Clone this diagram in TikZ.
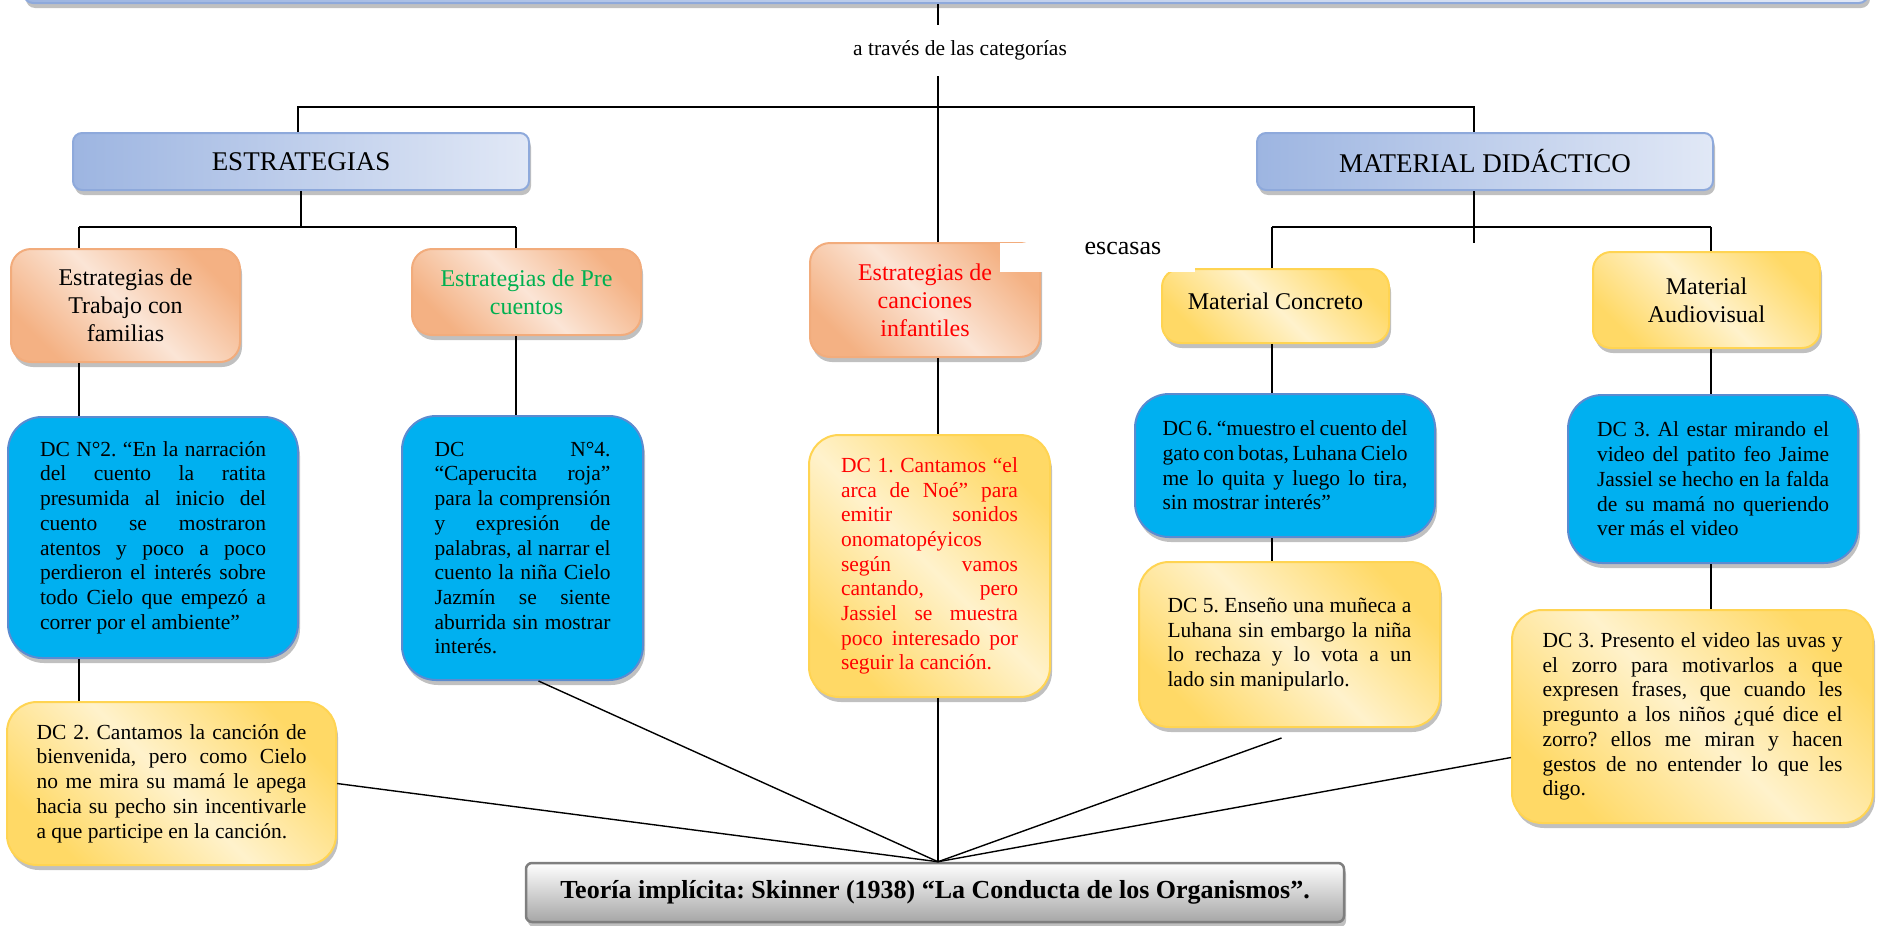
\documentclass[tikz,border=0pt]{standalone}
\usepackage{fontspec}
\setmainfont{Liberation Serif}
\usetikzlibrary{shadows}
\frenchspacing
\definecolor{hdrdark}{HTML}{9DB5E1}
\definecolor{hdrlight}{HTML}{E1E8F6}
\definecolor{hdrline}{HTML}{8EA9DB}
\definecolor{orngdark}{HTML}{F4B183}
\definecolor{ornglight}{HTML}{FBE5D6}
\definecolor{orngline}{HTML}{F2AC7C}
\definecolor{yeldark}{HTML}{FFD966}
\definecolor{yellight}{HTML}{FFF2CC}
\definecolor{yelline}{HTML}{FFD452}
\definecolor{dcfill}{HTML}{00B0F0}
\definecolor{dcline}{HTML}{5B8BD0}
\definecolor{teodark}{HTML}{A6A6A6}
\definecolor{teoline}{HTML}{7F7F7F}
\definecolor{txtgreen}{HTML}{00B050}
\newcommand\dcfont{\fontsize{21.5}{24.7}\selectfont\hyphenpenalty=10000\exhyphenpenalty=10000\tolerance=9999\relax}
\newcommand\catfont{\fontsize{24}{28}\selectfont}
\newcommand\hdrfont{\fontsize{27}{32}\selectfont}
\newcommand\escfont{\fontsize{26}{30}\selectfont}
\newcommand\teofont{\fontsize{26}{30}\selectfont\bfseries}
\tikzset{conn/.style={line width=1.4pt},
    bar/.style={line width=2.2pt},
    boxshadow/.style={drop shadow={shadow xshift=2pt, shadow yshift=-5pt, fill=black!45, opacity=0.55}},
    hdrbox/.style={draw=hdrline, line width=2pt, rounded corners=9pt, left color=hdrdark, right color=hdrlight, boxshadow, font=\hdrfont, inner sep=0pt},
    catbox/.style={draw=orngline, line width=2pt, rounded corners=20pt, top color=orngdark, bottom color=orngdark, middle color=ornglight, shading angle=-45, boxshadow, font=\catfont, align=center, inner sep=0pt},
    matbox/.style={draw=yelline, line width=2pt, rounded corners=18pt, top color=yeldark, bottom color=yeldark, middle color=yellight, shading angle=-45, boxshadow, font=\catfont, align=center, inner sep=0pt},
    dcblue/.style={draw=dcline, line width=2pt, fill=dcfill, rounded corners=34pt, boxshadow, font=\dcfont, align=justify, inner sep=0pt},
    dcyellow/.style={draw=yelline, line width=2pt, rounded corners=30pt, top color=yeldark, bottom color=yeldark, middle color=yellight, shading angle=-45, boxshadow, font=\dcfont, align=justify, inner sep=0pt},
    teobox/.style={draw=teoline, line width=2.5pt, rounded corners=6pt, top color=white, bottom color=teodark, boxshadow, font=\teofont, inner sep=0pt},
    }

\begin{document}
\begin{tikzpicture}[x=1pt,y=-1pt]
\useasboundingbox (0,0) rectangle (1879,926);
% top box, cut by the page
\node (top) [hdrbox, minimum width=1844, minimum height=80] at (946,-37) {};
\node (via) [minimum height=51, font=\dcfont, inner sep=0pt] at (960,50.5) {a través de las categorías};
% categories
\node (estr) [hdrbox, minimum width=456, minimum height=57] at (301,161.5) {ESTRATEGIAS};
\node (mat) [hdrbox, minimum width=456, minimum height=57] at (1485,161.5) {MATERIAL DIDÁCTICO};
\node (fam) [catbox, minimum width=229, minimum height=113] at (125.5,305.5) {Estrategias de\\Trabajo con\\familias};
\node (pre) [catbox, minimum width=229, minimum height=86, text=txtgreen] at (526.5,292) {Estrategias de Pre\\cuentos};
\node (can) [catbox, minimum width=230, minimum height=114, text=red] at (925,300) {Estrategias de\\canciones\\infantiles};
\node (conc) [matbox, minimum width=227, minimum height=74, text depth=10pt] at (1275.5,306) {Material Concreto};
\node (aud) [matbox, minimum width=227, minimum height=96] at (1706.5,300) {Material\\Audiovisual};
% DC boxes
\node (dc2a) [dcblue, minimum width=290, minimum height=241, text width=226] at (153,537.5)
  {DC N°2. “En la narración \linebreak del cuento la ratita \linebreak presumida al inicio del \linebreak cuento se mostraron \linebreak atentos y poco a poco \linebreak perdieron el interés sobre \linebreak todo Cielo que empezó a \linebreak correr por el ambiente”};
\node (dc4) [dcblue, minimum width=241, minimum height=264, text width=176] at (522.5,548)
  {DC N°4. \linebreak “Caperucita roja” \linebreak para la comprensión \linebreak y expresión de \linebreak palabras, al narrar el \linebreak cuento la niña Cielo \linebreak Jazmín se siente \linebreak aburrida sin mostrar \linebreak interés.};
\node (dc1) [dcyellow, minimum width=241, minimum height=262, text width=177, text=red] at (929.5,566)
  {DC 1. Cantamos “el \linebreak arca de Noé” para \linebreak emitir sonidos \linebreak onomatopéyicos \linebreak según vamos \linebreak cantando, pero \linebreak Jassiel se muestra \linebreak poco interesado por \linebreak seguir la canción.};
\node (dc6) [dcblue, minimum width=300, minimum height=143, text width=245] at (1285,465.5)
  {DC 6. “muestro el cuento del \linebreak gato con botas, Luhana Cielo \linebreak me lo quita y luego lo tira, \linebreak sin mostrar interés”};
\node (dc5) [dcyellow, minimum width=301, minimum height=165, text width=244] at (1289.5,644.5)
  {DC 5. Enseño una muñeca a \linebreak Luhana sin embargo la niña \linebreak lo rechaza y lo vota a un \linebreak lado sin manipularlo.};
\node (dc3a) [dcblue, minimum width=290, minimum height=168, text width=232] at (1713,479)
  {DC 3. Al estar mirando el \linebreak video del patito feo Jaime \linebreak Jassiel se hecho en la falda \linebreak de su mamá no queriendo \linebreak ver más el video};
\node (dc3b) [dcyellow, minimum width=361, minimum height=213, text width=300] at (1692.5,716.5)
  {DC 3. Presento el video las uvas y \linebreak el zorro para motivarlos a que \linebreak expresen frases, que cuando les \linebreak pregunto a los niños ¿qué dice el \linebreak zorro? ellos me miran y hacen \linebreak gestos de no entender lo que les \linebreak digo.};
\node (dc2b) [dcyellow, minimum width=329, minimum height=163, text width=270] at (171.5,783.5)
  {DC 2. Cantamos la canción de \linebreak bienvenida, pero como Cielo \linebreak no me mira su mamá le apega \linebreak hacia su pecho sin incentivarle \linebreak a que participe en la canción.};
\node (teo) [teobox, minimum width=818, minimum height=59] at (935,892.5)
  {Teoría implícita: Skinner (1938) “La Conducta de los Organismos”.};
% branch points
\coordinate (trunk) at (938,0);
\coordinate (b1) at (938,107);
\coordinate (b2l) at (79,227);
\coordinate (b2r) at (516,227);
\coordinate (b3l) at (1272,227);
\coordinate (b3r) at (1711,227);
\coordinate (hub) at (trunk |- teo.north);
% tree lines
\draw[conn] (trunk |- top.south) -- (trunk |- via.north);
\draw[conn] (trunk |- via.south) -- (b1);
\draw[bar] ([xshift=-3pt]estr.north) |- (b1) -| ([xshift=-11pt]mat.north);
\draw[conn] (b1) -- (trunk |- can.north);
\draw[conn] (estr.south) -- (estr.south |- b2l);
\draw[bar] (b2l) -- (b2r);
\draw[conn] (b2l) -- (b2l |- fam.north);
\draw[conn] (b2r) -- (b2r |- pre.north);
\draw[conn] (b2l |- fam.south) -- (b2l |- dc2a.north);
\draw[conn] (b2l |- dc2a.south) -- (b2l |- dc2b.north);
\draw[conn] (b2r |- pre.south) -- (b2r |- dc4.north);
\draw[conn] (trunk |- can.south) -- (trunk |- dc1.north);
\draw[conn] (trunk |- dc1.south) -- (hub);
\draw[conn] ([xshift=-11pt]mat.south) -- ++(0,52);
\draw[bar] (b3l) -- (b3r);
\draw[conn] (b3l) -- (b3l |- conc.north);
\draw[conn] (b3r) -- (b3r |- aud.north);
\draw[conn] (b3l |- conc.south) -- (b3l |- dc6.north);
\draw[conn] (b3l |- dc6.south) -- (b3l |- dc5.north);
\draw[conn] (b3r |- aud.south) -- (b3r |- dc3a.north);
\draw[conn] (b3r |- dc3a.south) -- (b3r |- dc3b.north);
% lines to the theory
\draw[conn] (dc2b.east) -- (hub);
\draw[conn] ([xshift=16pt]dc4.south) -- (hub);
\draw[conn] ([xshift=-8pt,yshift=-10pt]dc5.south) -- (hub);
\draw[conn] ([yshift=-41pt]dc3b.west) -- (hub);
% escasas, its white box covers two corners
\node (esc) [anchor=north west, fill=white, inner xsep=34pt, inner ysep=0pt, text width=127, align=right, text height=11pt, text depth=18pt, font=\escfont] at (1000,243) {escasas};
\end{tikzpicture}
\end{document}
